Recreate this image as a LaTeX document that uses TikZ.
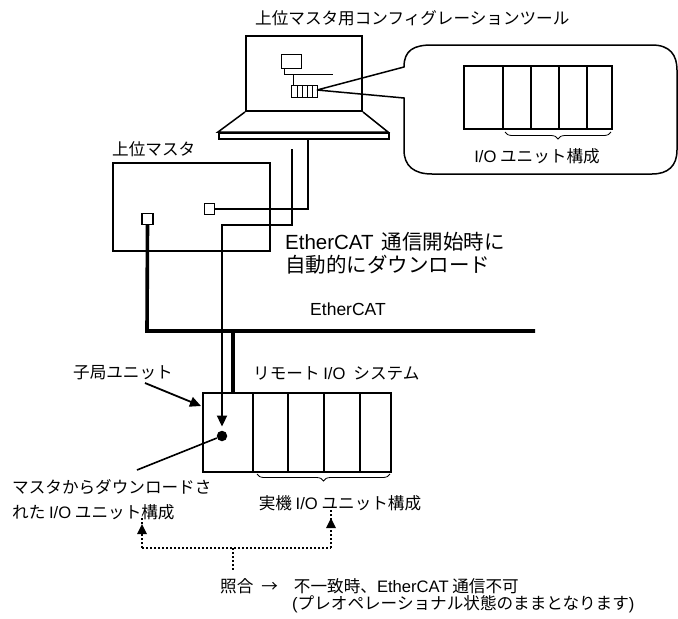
\documentclass[tikz,border=0pt]{standalone}
\usepackage{fontspec}
\setmainfont{Noto Sans CJK JP}
\newfontfamily\lat{Liberation Sans}
\usetikzlibrary{arrows.meta,decorations.pathreplacing}

\begin{document}
\begin{tikzpicture}[x=1pt,y=-1pt,
  txt/.style={inner sep=0pt, font=\fontsize{16.6}{25}\selectfont, align=left},
  bigtxt/.style={inner sep=0pt, font=\fontsize{20.5}{23}\selectfont, align=left},
  frame/.style={draw, line width=2pt, inner sep=0pt, anchor=north west},
  slotline/.style={line width=1.8pt},
  port/.style={draw, line width=1.2pt, inner sep=0pt, minimum size=#1},
  wire/.style={line width=1.2pt},
  dlwire/.style={line width=2pt},
  bus/.style={line width=3.6pt},
  brc/.style={line width=0.8pt, decorate, decoration={brace, amplitude=7pt}},
  dotline/.style={line width=2pt, dash pattern=on 2pt off 2pt},
  tip/.style={-{Triangle[length=11pt,width=10pt]}},
]
\useasboundingbox (0,0) rectangle (678,619);

% ---------- configuration tool (laptop) ----------
\node[txt, anchor=west] (title) at (255,18) {上位マスタ用コンフィグレーションツール};
\node[frame, minimum width=116pt, minimum height=75pt] (screen) at (245,35) {};
\draw[line width=1.5pt] (screen.south west) -- (218,132) -- (388,132) -- (screen.south east);
\node[draw, line width=1.5pt, inner sep=0pt, anchor=north west,
      minimum width=170pt, minimum height=6pt] (bar) at (218,132) {};

% miniature network on the screen
\node[port=0pt, minimum width=20pt, minimum height=14pt, line width=1pt] (mini) at (291,61) {};
\coordinate (miniA) at (284,74);
\coordinate (miniB) at (333,74);
\draw[line width=1pt] (mini.south -| miniA) -- (miniA) -- (miniB);
\node[draw, line width=1pt, inner sep=0pt, anchor=north west,
      minimum width=26pt, minimum height=12pt] (minirack) at (291,85) {};
\draw[line width=1pt] (293,74) -- (minirack.north -| 293,0);
\foreach \x in {297,302,307,312}
  \draw[line width=0.9pt] (\x,85) -- (\x,97);

% ---------- speech bubble ----------
\coordinate (callout) at (317,90);
\coordinate (bubA) at (404,67);
\coordinate (bubB) at (404,98);
\draw[line width=1.5pt] (callout) -- (bubA)
  .. controls (404,50) and (414,45) .. (432,45) -- (652,45)
  .. controls (670,45) and (677,55) .. (677,70) -- (677,150)
  .. controls (677,166) and (668,174) .. (652,174) -- (432,174)
  .. controls (414,174) and (404,166) .. (404,150) -- (bubB) -- (callout);
\node[frame, minimum width=148pt, minimum height=63pt, line width=2.2pt] (cfgrack) at (463,65) {};
\foreach \x in {503,531,559,587}
  \draw[slotline] (\x,65) -- (\x,128);
\draw[brc] (611,132) -- (505,132);
\node[txt] (cfglbl) at (537,156) {{\lat I/O} ユニット構成};

% ---------- upper master ----------
\node[txt, anchor=west] (mlbl) at (112,149) {上位マスタ};
\node[frame, minimum width=157pt, minimum height=88pt] (master) at (112,162) {};
\node[port=11pt] (sqA) at (147.5,219) {};
\node[port=10.5pt] (sqB) at (209.5,209) {};

% thin link from the master port to the tool
\coordinate (tapB) at (308,138);
\draw[wire] (sqB.east) -| (tapB);

% download path from the tool to the slave
\coordinate (dlTop) at (292,149);
\coordinate (dlBend) at (292,225);
\node[circle, fill, inner sep=0pt, minimum size=10.5pt] (dot) at (222,436) {};
\draw[dlwire, tip, shorten >=4pt] (dlTop) -- (dlBend) -| (dot.north);

\node[bigtxt, anchor=west] (dltxt) at (285,253.5) {{\lat EtherCAT}\hspace{8pt}通信開始時に\\自動的にダウンロード};

% ---------- EtherCAT bus ----------
\coordinate (busL) at (147,331);
\coordinate (busR) at (535,331);
\coordinate (busTap) at (233,331);
\draw[bus] (sqA.south) -- (busL) -- (busR);
\node[inner sep=0pt, font=\fontsize{17.5}{20}\lat] (buslbl) at (348,309) {EtherCAT};

% ---------- remote I/O (slave) ----------
\node[frame, minimum width=188pt, minimum height=79pt, line width=2.3pt] (slave) at (202,392) {};
\foreach \x in {253,288,324,360}
  \draw[slotline] (\x,392) -- (\x,471);
\draw[bus] (busTap) -- (busTap |- slave.north);
\node[txt, anchor=west] (rlbl) at (253,373) {リモート {\lat I/O}\hspace{8pt}システム};
\draw[brc] (390,474) -- (257,474);
\node[txt] (reallbl) at (340,503) {実機 {\lat I/O} ユニット構成};

\node[txt] (slbl) at (123,373) {子局ユニット};
\coordinate (sFrom) at (145,383);
\coordinate (sTo) at (201,406);
\draw[line width=1.8pt, tip] (sFrom) -- (sTo);

\node[txt, anchor=west] (dllbl) at (12,499.5) {マスタからダウンロードさ\\れた {\lat I/O} ユニット構成};
\coordinate (dlTxtPt) at (137,470);
\draw[line width=1.6pt] (dot) -- (dlTxtPt);

% ---------- comparison ----------
\coordinate (cmpLtip) at (142,524);
\coordinate (cmpL) at (142,548);
\coordinate (cmpR) at (331,548);
\coordinate (cmpRtip) at (331,518);
\coordinate (cmpM) at (233,548);
\coordinate (cmpEnd) at (233,571);
\draw[dotline] (cmpL) -- (cmpR);
\draw[dotline] (cmpL) -- ([yshift=8pt]cmpLtip);
\draw[dotline] (cmpR) -- ([yshift=8pt]cmpRtip);
\draw[dotline] (cmpM) -- (cmpEnd);
\fill (cmpLtip) -- ++(-5,10) -- ++(10,0) -- cycle;
\fill (cmpRtip) -- ++(-5,10) -- ++(10,0) -- cycle;

\node[txt, anchor=west] (res1) at (220,586) {照合\hspace{8pt}→\hspace{16pt}不一致時、{\lat EtherCAT} 通信不可};
\node[txt, anchor=west] (res2) at (292,604) {{\lat (}プレオペレーショナル状態のままとなります{\lat )}};
\end{tikzpicture}
\end{document}
